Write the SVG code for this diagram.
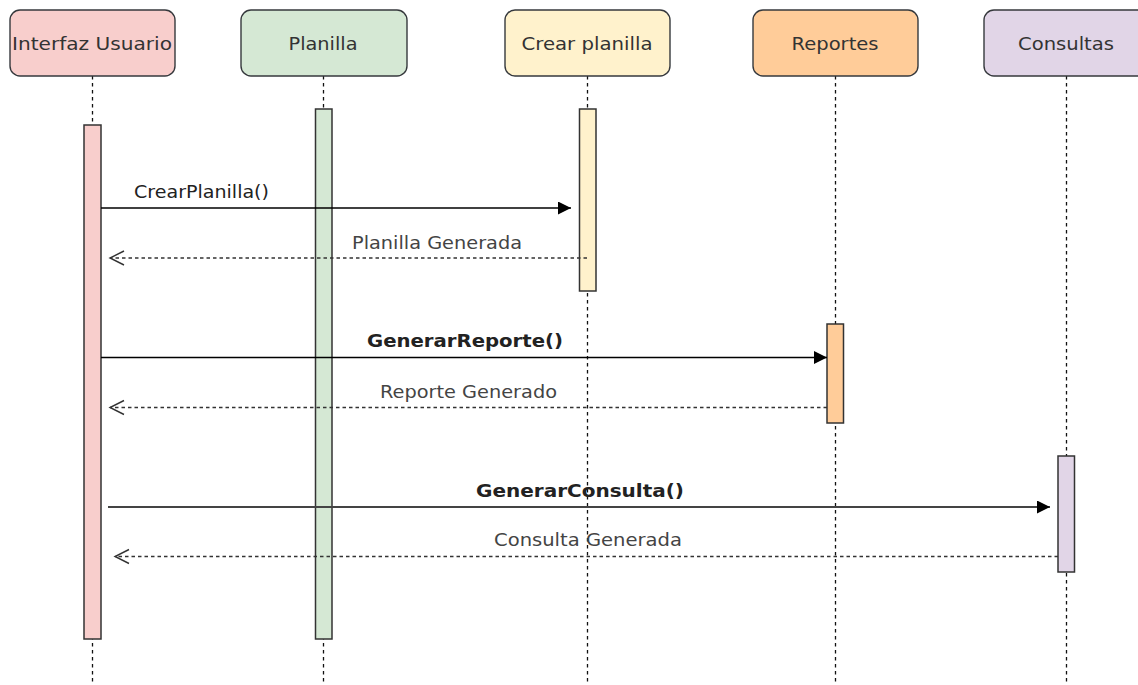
<svg xmlns="http://www.w3.org/2000/svg" width="1138" height="685" viewBox="0 0 1138 685">
<style>
.box{stroke:#36393d;stroke-width:1.4}
.life{stroke:#111;stroke-width:1.3;stroke-dasharray:3.5 3.5;fill:none}
.bar{stroke:#333;stroke-width:1.5}
.lbl{font-family:"DejaVu Sans",Verdana,sans-serif;font-size:18px;fill:#333;text-anchor:middle}
.msg{font-family:"DejaVu Sans",Verdana,sans-serif;font-size:17px;fill:#222;text-anchor:middle}
.ret{font-family:"DejaVu Sans",Verdana,sans-serif;font-size:17px;fill:#444;text-anchor:middle}
.bold{font-weight:bold}
.call{stroke:#000;stroke-width:1.4;fill:none}
.back{stroke:#333;stroke-width:1.3;stroke-dasharray:3.5 3;fill:none}
</style>
<defs>
<marker id="solid" markerUnits="userSpaceOnUse" markerWidth="14" markerHeight="14" refX="13" refY="6.5" orient="auto" viewBox="0 0 14 14">
<path d="M0,0 L13,6.5 L0,13 Z" fill="#000" stroke="none"/>
</marker>
<marker id="open" markerUnits="userSpaceOnUse" markerWidth="18" markerHeight="18" refX="15" refY="8" orient="auto" viewBox="0 0 18 18">
<path d="M1,1 L15,8 L1,15" fill="none" stroke="#333" stroke-width="1.4"/>
</marker>
</defs>
<rect width="1138" height="685" fill="#fff"/>

<g id="interfaz">
<line class="life" x1="92.5" y1="76" x2="92.5" y2="685"/>
<rect class="box" x="10" y="10" width="165" height="66" rx="10" fill="#f8cecc"/>
<text class="lbl" x="92" y="49.5" textLength="160" lengthAdjust="spacingAndGlyphs">Interfaz Usuario</text>
<rect class="bar" x="84" y="125" width="17" height="514" fill="#f8cecc"/>
</g>

<g id="planilla">
<line class="life" x1="323.5" y1="76" x2="323.5" y2="685"/>
<rect class="box" x="241" y="10" width="166" height="66" rx="10" fill="#d5e8d4"/>
<text class="lbl" x="323" y="49.5" textLength="69" lengthAdjust="spacingAndGlyphs">Planilla</text>
<rect class="bar" x="315.5" y="109" width="16.5" height="530" fill="#d5e8d4"/>
</g>

<g id="crear">
<line class="life" x1="587.5" y1="76" x2="587.5" y2="685"/>
<rect class="box" x="505" y="10" width="165" height="66" rx="10" fill="#fff2cc"/>
<text class="lbl" x="587" y="49.5" textLength="131" lengthAdjust="spacingAndGlyphs">Crear planilla</text>
<rect class="bar" x="579.5" y="109" width="16.5" height="182" fill="#fff2cc"/>
</g>

<g id="reportes">
<line class="life" x1="835.5" y1="76" x2="835.5" y2="685"/>
<rect class="box" x="753" y="10" width="165" height="66" rx="10" fill="#ffcc99"/>
<text class="lbl" x="835" y="49.5" textLength="87" lengthAdjust="spacingAndGlyphs">Reportes</text>
<rect class="bar" x="827" y="324" width="16.5" height="99" fill="#ffcc99"/>
</g>

<g id="consultas">
<line class="life" x1="1066.5" y1="76" x2="1066.5" y2="685"/>
<rect class="box" x="984" y="10" width="165" height="66" rx="10" fill="#e1d5e7"/>
<text class="lbl" x="1066" y="49.5" textLength="96" lengthAdjust="spacingAndGlyphs">Consultas</text>
<rect class="bar" x="1058" y="456" width="16.5" height="116" fill="#e1d5e7"/>
</g>

<g id="connectors">
<line class="call" x1="101" y1="208" x2="571" y2="208" marker-end="url(#solid)"/>
<text class="msg" x="201.5" y="198" textLength="135" lengthAdjust="spacingAndGlyphs">CrearPlanilla()</text>

<line class="back" x1="587" y1="258" x2="110" y2="258" marker-end="url(#open)"/>
<text class="ret" x="437" y="249" textLength="170" lengthAdjust="spacingAndGlyphs">Planilla Generada</text>

<line class="call" x1="101" y1="357.5" x2="827" y2="357.5" marker-end="url(#solid)"/>
<text class="msg bold" x="465" y="347" textLength="196" lengthAdjust="spacingAndGlyphs">GenerarReporte()</text>

<line class="back" x1="827" y1="407.5" x2="110" y2="407.5" marker-end="url(#open)"/>
<text class="ret" x="468.5" y="398" textLength="177" lengthAdjust="spacingAndGlyphs">Reporte Generado</text>

<line x1="108" y1="507" x2="1050" y2="507" stroke="#444" stroke-width="1.8" marker-end="url(#solid)"/>
<text class="msg bold" x="580" y="497" textLength="208" lengthAdjust="spacingAndGlyphs">GenerarConsulta()</text>

<line class="back" x1="1058" y1="556.5" x2="115" y2="556.5" marker-end="url(#open)"/>
<text class="ret" x="588" y="546" textLength="188" lengthAdjust="spacingAndGlyphs">Consulta Generada</text>
</g>
</svg>
